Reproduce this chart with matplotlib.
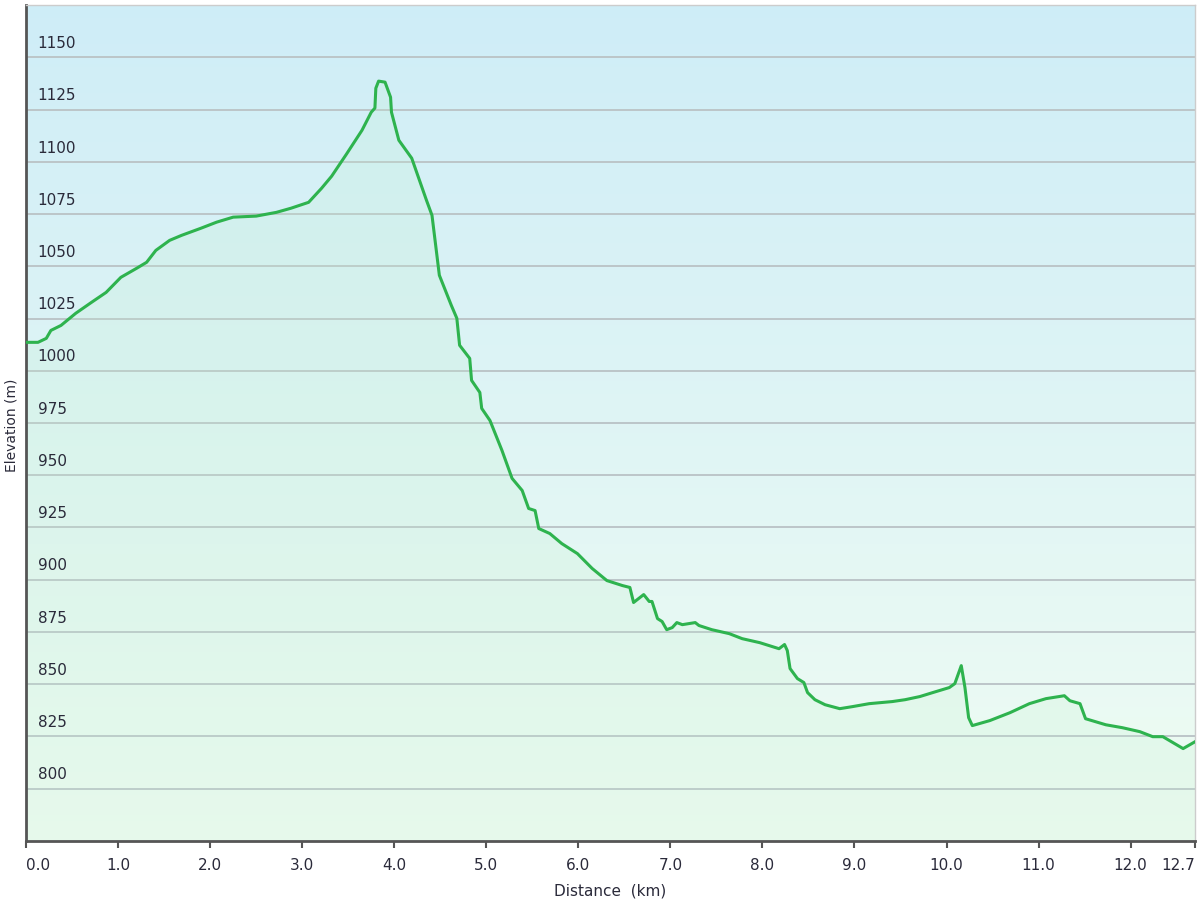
import matplotlib.pyplot as plt
import matplotlib.transforms as mtransforms
import numpy as np

# Elevation profile (distance km, elevation m)
distance_km = [0.00, 0.13, 0.22, 0.27, 0.38, 0.54, 0.71, 0.87, 1.03, 1.20, 1.31, 1.41,
               1.56, 1.69, 1.90, 2.07, 2.25, 2.50, 2.72, 2.88, 3.07, 3.21, 3.32, 3.48,
               3.65, 3.75, 3.79, 3.80, 3.83, 3.90, 3.96, 3.97, 4.05, 4.19, 4.35, 4.41,
               4.49, 4.62, 4.68, 4.71, 4.82, 4.84, 4.93, 4.95, 5.04, 5.17, 5.28, 5.39,
               5.46, 5.53, 5.57, 5.69, 5.82, 5.99, 6.15, 6.31, 6.48, 6.56, 6.60, 6.71,
               6.77, 6.80, 6.86, 6.91, 6.96, 7.02, 7.07, 7.13, 7.27, 7.31, 7.45, 7.64,
               7.78, 7.97, 8.18, 8.24, 8.27, 8.30, 8.38, 8.45, 8.49, 8.57, 8.68, 8.84,
               8.98, 9.16, 9.41, 9.55, 9.71, 9.85, 10.03, 10.09, 10.16, 10.20, 10.24, 10.28,
               10.47, 10.69, 10.90, 11.08, 11.28, 11.34, 11.45, 11.51, 11.73, 11.91, 12.10,
               12.24, 12.35, 12.57, 12.70]
elevation_m = [1013.6, 1013.6, 1015.5, 1019.3, 1021.7, 1027.5, 1032.7, 1037.5, 1044.7, 1049.0,
               1051.9, 1057.6, 1062.4, 1064.8, 1068.2, 1071.1, 1073.5, 1074.0, 1075.8, 1077.8,
               1080.6, 1087.3, 1093.1, 1103.6, 1115.1, 1123.7, 1125.7, 1135.2, 1138.6, 1138.1,
               1130.9, 1123.7, 1110.3, 1101.7, 1081.6, 1074.4, 1045.7, 1031.3, 1025.1, 1012.2,
               1005.9, 995.4, 989.6, 982.0, 976.2, 961.9, 948.5, 942.7, 934.1, 933.1,
               924.5, 922.1, 917.3, 912.5, 905.4, 899.6, 897.2, 896.3, 889.1, 892.9,
               889.6, 889.6, 881.4, 880.0, 876.1, 877.1, 879.5, 878.5, 879.5, 878.1,
               876.1, 874.2, 871.8, 869.9, 867.0, 869.0, 866.1, 857.5, 852.7, 850.8,
               846.0, 842.6, 840.2, 838.3, 839.3, 840.7, 841.7, 842.6, 844.1, 846.0,
               848.4, 850.3, 858.9, 848.4, 834.0, 830.2, 832.6, 836.4, 840.7, 843.1,
               844.5, 842.1, 840.7, 833.5, 830.6, 829.2, 827.3, 824.9, 824.9, 819.2, 822.5]

x_ticks = [0, 1, 2, 3, 4, 5, 6, 7, 8, 9, 10, 11, 12, 12.7]
x_tick_labels = ["0.0", "1.0", "2.0", "3.0", "4.0", "5.0", "6.0", "7.0", "8.0",
                 "9.0", "10.0", "11.0", "12.0", "12.7"]
y_ticks = [800, 825, 850, 875, 900, 925, 950, 975, 1000, 1025, 1050, 1075, 1100, 1125, 1150]

text_color = "#2a2a3a"

fig = plt.figure(figsize=(12, 9), dpi=100)
ax = fig.add_axes([0.0217, 0.0656, 0.9742, 0.9288])
ax.set_xlim(0, 12.7)
ax.set_ylim(775, 1175)

# Background gradient: light blue at top to pale green at bottom
top = np.array([0.81, 0.93, 0.97])
bottom = np.array([0.94, 0.99, 0.95])
t = np.linspace(0, 1, 256)[:, None]
grad = (top * (1 - t) + bottom * t)[:, None, :]
ax.imshow(grad, extent=[0, 12.7, 775, 1175], aspect="auto", zorder=0, origin="upper")

# Grid lines and labels inside the plot
trans = mtransforms.blended_transform_factory(ax.transAxes, ax.transData)
for v in y_ticks:
    ax.axhline(v, color="#bcc5c8", lw=1.4, zorder=1)
    ax.text(0.01, v + 3, str(v), transform=trans,
            fontsize=11, color=text_color, va="bottom", ha="left", zorder=5)

ax.fill_between(distance_km, elevation_m, 775, color="#c2f0cf", alpha=0.2, zorder=2, lw=0)
ax.plot(distance_km, elevation_m, color="#2eb34e", lw=2.2, zorder=3)

ax.set_yticks([])
ax.set_xticks(x_ticks)
ax.set_xticklabels(x_tick_labels, fontsize=11, color=text_color)
ax.tick_params(axis="x", direction="out", length=5, width=1.5, color="#555555", pad=7)
labels = ax.get_xticklabels()
labels[0].set_horizontalalignment("left")
labels[-1].set_horizontalalignment("right")

for side in ["left", "bottom"]:
    ax.spines[side].set_color("#555555")
    ax.spines[side].set_linewidth(2)
for side in ["top", "right"]:
    ax.spines[side].set_color("#cccccc")
    ax.spines[side].set_linewidth(1)

ax.set_xlabel("Distance  (km)", fontsize=11, color=text_color, labelpad=8)
fig.text(0.010, 0.527, "Elevation (m)", rotation=90, fontsize=10, color=text_color,
         ha="center", va="center")

fig.savefig("out.png", dpi=100)
